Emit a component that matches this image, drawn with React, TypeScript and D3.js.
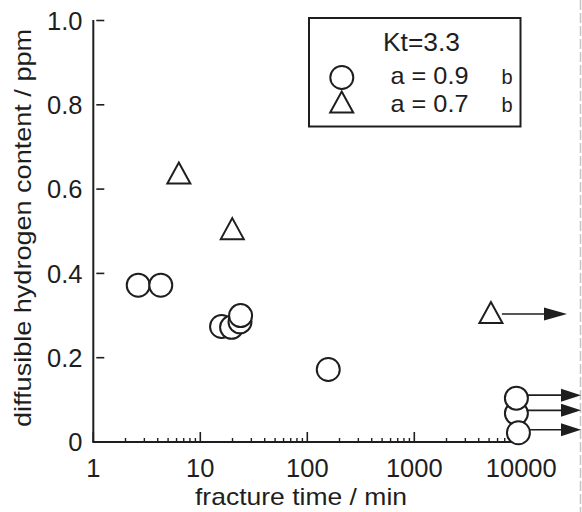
import React from "react";
import * as d3 from "d3";

// ---- data ----
const circleTimes = [2.63, 4.27, 15.8, 19.6, 23.5, 23.8, 157, 9000, 9000, 9400];
const circleValues = [0.372, 0.372, 0.274, 0.272, 0.285, 0.3, 0.172, 0.068, 0.104, 0.022];
const circleRunout = [false, false, false, false, false, false, false, true, true, true];

const triangleTimes = [6.3, 19.9, 5200];
const triangleValues = [0.637, 0.505, 0.306];
const triangleRunout = [false, false, true];

const xTickValues = [1, 10, 100, 1000, 10000];
const xTickLabels = ["1", "10", "100", "1000", "10000"];
const yTickValues = [0, 0.2, 0.4, 0.6, 0.8, 1.0];
const yTickLabels = ["0", "0.2", "0.4", "0.6", "0.8", "1.0"];

const legendTitle = "Kt=3.3";
const legendLabels = ["a = 0.9", "a = 0.7"];
const legendSuffix = "b";

const xTitle = "fracture time / min";
const yTitle = "diffusible hydrogen content  / ppm";

const FONT = "'Liberation Sans', Arial, Helvetica, sans-serif";
const INK = "#1e1e1e";

export default function App() {
  const x = d3.scaleLog().domain([1, 10000]).range([93.3, 521.3]);
  const y = d3.scaleLinear().domain([0, 1]).range([442, 20.5]);

  const R = 11.5;
  const triPath = (cx: number, cy: number) =>
    `M${cx},${cy - 11} L${cx + 11.5},${cy + 10} L${cx - 11.5},${cy + 10} Z`;

  const minorTicks: number[] = [];
  for (let dec = 1; dec < 10000; dec *= 10) {
    for (let k = 2; k <= 9; k++) minorTicks.push(dec * k);
  }

  const arrow = (x1: number, x2: number, yy: number, key: string, head = 21) => (
    <g key={key}>
      <line x1={x1} x2={x2 - head + 2} y1={yy} y2={yy} stroke={INK} strokeWidth={1.6} />
      <path d={`M${x2 - head},${yy - 6.5} L${x2},${yy} L${x2 - head},${yy + 6.5} Z`} fill={INK} />
    </g>
  );

  return (
    <svg
      width={582}
      height={512}
      style={{ position: "absolute", left: 0, top: 0, background: "#fff" }}
      fontFamily={FONT}
    >
      <rect x={0} y={0} width={582} height={512} fill="#fff" />
      {/* right-edge dashed guide */}
      <line x1={580.5} x2={580.5} y1={0} y2={512} stroke="#c4c4c4" strokeWidth={1.5} strokeDasharray="10,3" />

      {/* y axis */}
      <line x1={x(1)} x2={x(1)} y1={y(1) - 0.5} y2={y(0)} stroke={INK} strokeWidth={2} />
      {yTickValues.map((v, i) => (
        <g key={"yt" + i}>
          {v > 0 && (
            <line x1={x(1) + 3} x2={x(1) + 11} y1={y(v)} y2={y(v)} stroke={INK} strokeWidth={1.6} />
          )}
          <text
            x={82.5}
            y={y(v)}
            dy="0.36em"
            textAnchor="end"
            fontSize={25.5}
            fill={INK}
          >
            {yTickLabels[i]}
          </text>
        </g>
      ))}

      {/* x axis */}
      <line x1={x(1) - 1} x2={x(10000)} y1={y(0)} y2={y(0)} stroke={INK} strokeWidth={2} />
      {xTickValues.map((v, i) => (
        <g key={"xt" + i}>
          <line x1={x(v)} x2={x(v)} y1={y(0)} y2={y(0) - 10} stroke={INK} strokeWidth={1.6} />
          <text x={x(v)} y={477} textAnchor="middle" fontSize={25.5} fill={INK}>
            {xTickLabels[i]}
          </text>
        </g>
      ))}
      {minorTicks.map((v, i) => (
        <line key={"mt" + i} x1={x(v)} x2={x(v)} y1={y(0)} y2={y(0) - 4} stroke={INK} strokeWidth={1.4} />
      ))}

      {/* axis titles */}
      <text
        x={301}
        y={505}
        textAnchor="middle"
        fontSize={24}
        fill={INK}
        textLength={212}
        lengthAdjust="spacingAndGlyphs"
      >
        {xTitle}
      </text>
      <text
        transform="translate(31,228) rotate(-90)"
        textAnchor="middle"
        fontSize={24}
        fill={INK}
        textLength={398}
        lengthAdjust="spacingAndGlyphs"
      >
        {yTitle}
      </text>

      {/* run-out arrows */}
      {triangleTimes.map((t, i) =>
        triangleRunout[i] ? arrow(x(t) + 11, 567, y(triangleValues[i]) + 1, "ta" + i, 23) : null
      )}
      {circleTimes.map((t, i) =>
        circleRunout[i] ? arrow(x(t) + R, 581, y(circleValues[i]) - 3, "ca" + i, 20) : null
      )}

      {/* circles */}
      {circleTimes.map((t, i) => (
        <circle
          key={"c" + i}
          cx={x(t)}
          cy={y(circleValues[i])}
          r={R}
          fill="#fff"
          stroke={INK}
          strokeWidth={2}
        />
      ))}
      {/* triangles */}
      {triangleTimes.map((t, i) => (
        <path
          key={"t" + i}
          d={triPath(x(t), y(triangleValues[i]))}
          fill="#fff"
          stroke={INK}
          strokeWidth={2}
          strokeLinejoin="miter"
        />
      ))}

      {/* legend */}
      <rect x={309} y={18} width={211.5} height={108.5} fill="#fff" stroke={INK} strokeWidth={2} />
      <text
        x={421.5}
        y={51}
        textAnchor="middle"
        fontSize={25}
        fill={INK}
        textLength={77}
        lengthAdjust="spacingAndGlyphs"
      >
        {legendTitle}
      </text>
      <circle cx={341.8} cy={77.5} r={R} fill="#fff" stroke={INK} strokeWidth={2} />
      <path d={triPath(341.7, 102.5)} fill="#fff" stroke={INK} strokeWidth={2} />
      {legendLabels.map((l, i) => (
        <g key={"lg" + i}>
          <text x={390.5} y={84 + i * 28} fontSize={24} fill={INK} textLength={78} lengthAdjust="spacingAndGlyphs">
            {l}
          </text>
          <text x={501.5} y={84 + i * 28} fontSize={20} fill={INK}>
            {legendSuffix}
          </text>
        </g>
      ))}
    </svg>
  );
}
